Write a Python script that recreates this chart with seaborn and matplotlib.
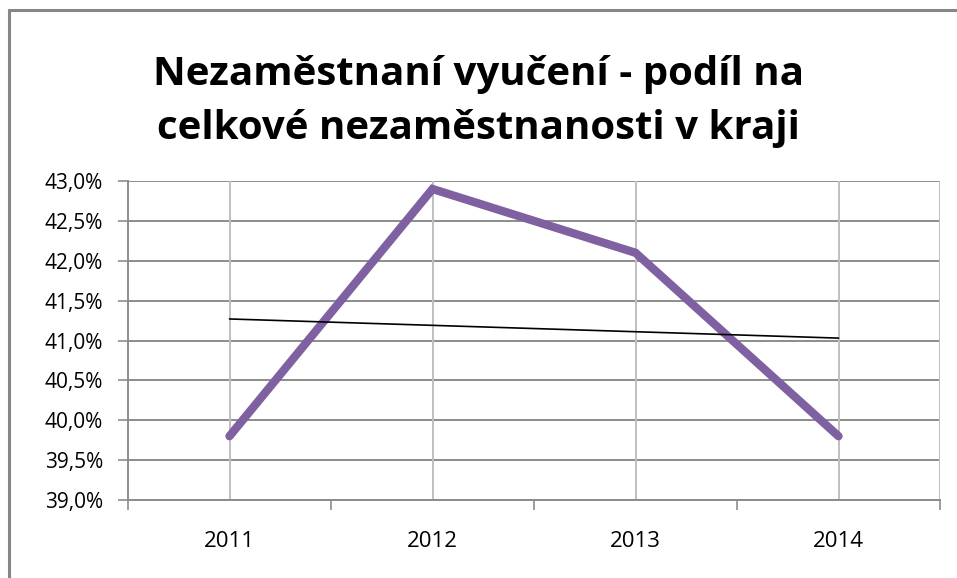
import numpy as np
import pandas as pd
import matplotlib
matplotlib.use("Agg")
import matplotlib.pyplot as plt
from matplotlib.lines import Line2D
import seaborn as sns

years = ["2011", "2012", "2013", "2014"]
share = [39.8, 42.9, 42.1, 39.8]
y_ticks = [39.0, 39.5, 40.0, 40.5, 41.0, 41.5, 42.0, 42.5, 43.0]

title = "Nezaměstnaní vyučení - podíl na\ncelkové nezaměstnanosti v kraji"

sns.set_theme(style="white")
plt.rcParams["font.family"] = ["Open Sans", "DejaVu Sans"]

df = pd.DataFrame({"pos": np.arange(len(years)) + 0.5, "share": share})

fig = plt.figure(figsize=(9.57, 5.78), dpi=100)
ax = fig.add_axes([128 / 957, 78 / 578, 812 / 957, 319 / 578])

# gridlines (Excel style)
for yv in y_ticks:
    ax.axhline(yv, color="#8c8c8c", lw=1.4, zorder=0)
for xv in df["pos"]:
    ax.axvline(xv, color="#c0c0c0", lw=1.4, zorder=0)
ax.axvline(len(years), color="#c0c0c0", lw=1.4, zorder=0)

sns.lineplot(data=df, x="pos", y="share", ax=ax, color="#7f60a1",
             linewidth=6, solid_capstyle="round", solid_joinstyle="miter", zorder=3)

# linear trendline
k, q = np.polyfit(np.arange(1, len(years) + 1), share, 1)
trend = k * np.arange(1, len(years) + 1) + q
sns.lineplot(x=df["pos"], y=trend, ax=ax, color="black", linewidth=1.2, zorder=4)

ax.set_xlim(0, len(years))
ax.set_ylim(39.0, 43.0)
ax.set_yticks(y_ticks)
ax.set_yticklabels([f"{v:.1f}%".replace(".", ",") for v in y_ticks], fontsize=15, color="black")
ax.set_xticks(np.arange(len(years) + 1))
ax.set_xticklabels([])
ax.set_xticks(df["pos"], minor=True)
ax.set_xticklabels(years, minor=True, fontsize=16, color="black")
ax.tick_params(axis="x", which="major", direction="out", length=7, width=1.2, color="#8c8c8c", bottom=True)
ax.tick_params(axis="x", which="minor", length=0, pad=22)
ax.tick_params(axis="y", direction="out", length=7, width=1.2, color="#8c8c8c", left=True, pad=11)
ax.set_xlabel("")
ax.set_ylabel("")
for side in ["top", "right"]:
    ax.spines[side].set_visible(False)
for side in ["left", "bottom"]:
    ax.spines[side].set_color("#8c8c8c")
    ax.spines[side].set_linewidth(1.4)

fig.text(0.5, 1 - 101 / 578, title, ha="center", va="center", fontsize=29,
         fontweight="bold", linespacing=1.5, color="black")

# chart border (cropped on right/bottom)
fig.add_artist(Line2D([9 / 957, 9 / 957], [0, 1 - 10 / 578], color="#868686", lw=2.2, transform=fig.transFigure))
fig.add_artist(Line2D([9 / 957, 1], [1 - 10 / 578, 1 - 10 / 578], color="#868686", lw=2.2, transform=fig.transFigure))

fig.savefig("out.png", dpi=100)
